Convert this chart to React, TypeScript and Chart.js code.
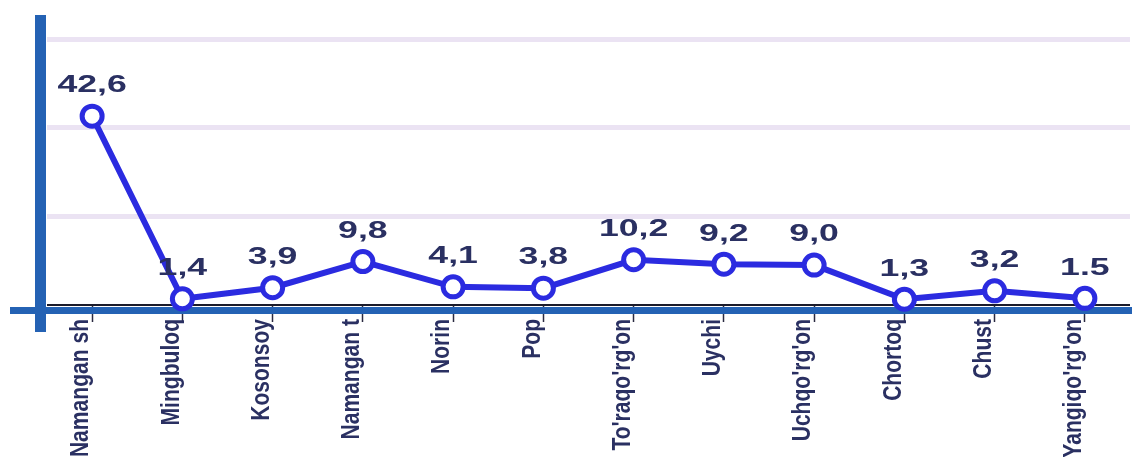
import React, { useEffect, useRef } from "react";
import { Chart, registerables } from "chart.js";

Chart.register(...registerables);

const categories = [
  "Namangan sh",
  "Mingbuloq",
  "Kosonsoy",
  "Namangan t",
  "Norin",
  "Pop",
  "To'raqo'rg'on",
  "Uychi",
  "Uchqo'rg'on",
  "Chortoq",
  "Chust",
  "Yangiqo'rg'on",
];
const values = [42.6, 1.4, 3.9, 9.8, 4.1, 3.8, 10.2, 9.2, 9.0, 1.3, 3.2, 1.5];
const valueLabels = ["42,6", "1,4", "3,9", "9,8", "4,1", "3,8", "10,2", "9,2", "9,0", "1,3", "3,2", "1.5"];
const yMin = 0;
const yMax = 60;
const yStep = 20;

const LINE = "#2b2be0";
const AXIS_BLUE = "#2462b4";
const TEXT = "#2a3062";
const GRID = "#ebe3f3";

const axisPlugin = {
  id: "blueAxes",
  beforeDatasetsDraw(chart: any) {
    const { ctx, chartArea } = chart;
    ctx.save();
    ctx.fillStyle = AXIS_BLUE;
    ctx.fillRect(10, chartArea.bottom + 2, chart.width - 10, 7);
    ctx.fillRect(chartArea.left - 12, 15, 11, 317);
    ctx.restore();
  },
};

const xLabelPlugin = {
  id: "xLabels",
  afterDraw(chart: any) {
    const { ctx, chartArea } = chart;
    const xs = chart.scales.x;
    ctx.save();
    ctx.fillStyle = TEXT;
    ctx.font = "bold 26px 'Liberation Sans', Arial, sans-serif";
    ctx.textAlign = "right";
    ctx.textBaseline = "middle";
    categories.forEach((c, i) => {
      const x = xs.getPixelForTick(i) - 11;
      const y = chartArea.bottom + 14;
      ctx.save();
      ctx.translate(x, y);
      ctx.rotate(-Math.PI / 2);
      ctx.scale(0.81, 1);
      ctx.fillText(c, 0, 0);
      ctx.restore();
    });
    ctx.restore();
  },
};

const labelPlugin = {
  id: "valueLabels",
  afterDatasetsDraw(chart: any) {
    const { ctx } = chart;
    const meta = chart.getDatasetMeta(0);
    ctx.save();
    ctx.font = "bold 23px 'Liberation Sans', Arial, sans-serif";
    ctx.fillStyle = TEXT;
    ctx.textAlign = "center";
    ctx.textBaseline = "middle";
    meta.data.forEach((pt: any, i: number) => {
      ctx.save();
      ctx.translate(pt.x, pt.y - 30);
      ctx.scale(1.55, 1);
      ctx.fillText(valueLabels[i], 0, 0);
      ctx.restore();
    });
    ctx.restore();
  },
};

export default function App() {
  const ref = useRef<HTMLCanvasElement>(null);
  useEffect(() => {
    document.body.style.margin = "0";
    const chart = new Chart(ref.current!, {
      type: "line",
      data: {
        labels: categories,
        datasets: [
          {
            data: values,
            borderColor: LINE,
            borderWidth: 6,
            pointRadius: 10,
            pointBorderWidth: 5,
            pointBackgroundColor: "#ffffff",
            pointBorderColor: LINE,
            tension: 0,
            clip: false,
          },
        ],
      },
      options: {
        responsive: false,
        animation: false,
        layout: { autoPadding: false, padding: { top: 39, right: 2, left: 0, bottom: 0 } },
        plugins: { legend: { display: false }, tooltip: { enabled: false } },
        scales: {
          x: {
            offset: true,
            grid: {
              offset: false,
              drawOnChartArea: false,
              drawTicks: true,
              tickLength: 17,
              tickColor: "#2a2a40",
              tickWidth: 1.5,
            },
            border: { display: false },
            ticks: { display: false, autoSkip: false },
            afterFit(axis: any) {
              axis.height = 152;
            },
          },
          y: {
            min: yMin,
            max: yMax,
            ticks: { display: false, stepSize: yStep },
            border: { display: false },
            grid: {
              drawTicks: false,
              color: (c: any) => (c.tick && c.tick.value === 0 ? "#1a1a2a" : GRID),
              lineWidth: (c: any) => (c.tick && c.tick.value === 0 ? 2 : 5),
            },
            afterFit(axis: any) {
              axis.width = 47;
            },
          },
        },
      },
      plugins: [axisPlugin, labelPlugin, xLabelPlugin],
    });
    return () => chart.destroy();
  }, []);
  return (
    <div style={{ width: 1132, height: 457 }}>
      <canvas ref={ref} width={1132} height={457} />
    </div>
  );
}
